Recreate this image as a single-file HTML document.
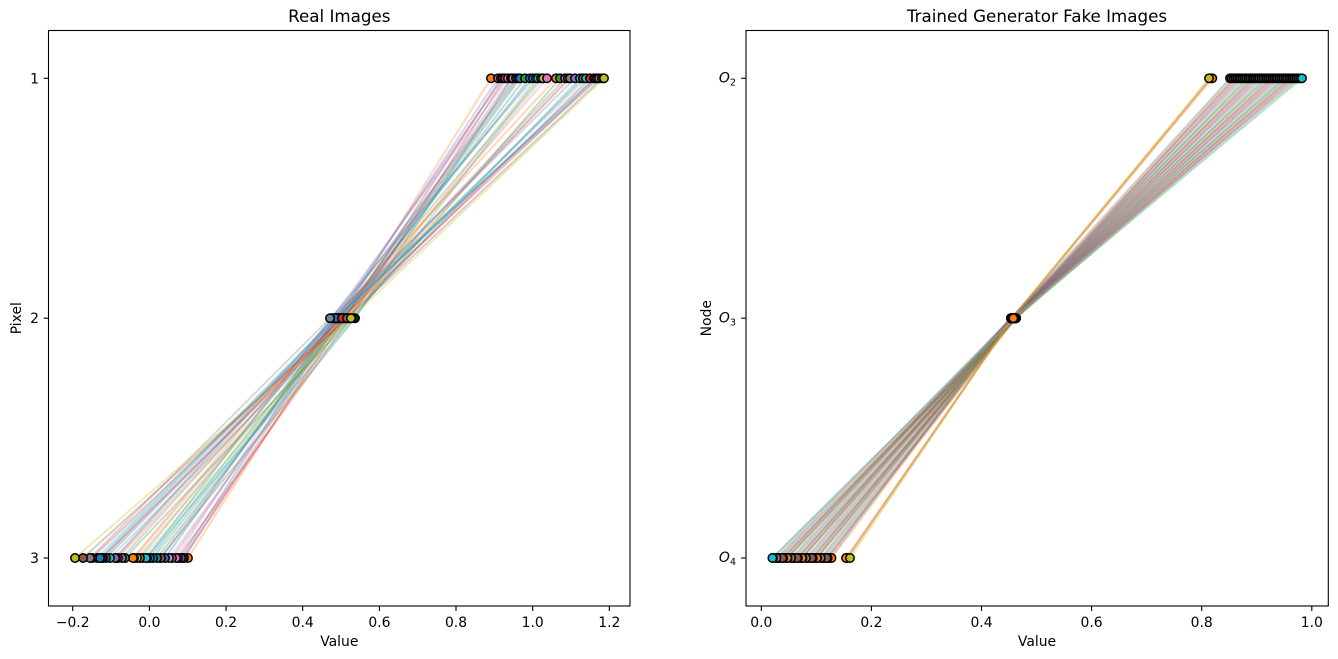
<!DOCTYPE html>
<html>
<head>
<meta charset="utf-8">
<style>
html,body{margin:0;padding:0;background:#fff;}
svg{display:block;}
text{font-family:"DejaVu Sans","Liberation Sans",sans-serif;fill:#000;}
.tl{font-size:13.9px;}
.ttl{font-size:16.7px;}
.ln{fill:none;stroke-width:2;stroke-opacity:0.3;stroke-linejoin:round;}
.mk circle{stroke:#000;stroke-width:1.5;}
</style>
</head>
<body>
<svg width="1338" height="659" viewBox="0 0 1338 659" xmlns="http://www.w3.org/2000/svg">
<rect width="1338" height="659" fill="#fff"/>

<!-- ================= LEFT PANEL ================= -->
<g id="leftlines">
<polyline class="ln" stroke="#ff7f0e" points="491,78.3 341,318.2 188,558"/>
<polyline class="ln" stroke="#9467bd" points="498,78.3 338,318.2 184,558"/>
<polyline class="ln" stroke="#d62728" points="501,78.3 345,318.2 183,558"/>
<polyline class="ln" stroke="#1f77b4" points="503,78.3 335,318.2 181,558"/>
<polyline class="ln" stroke="#d62728" points="505,78.3 350,318.2 178,558"/>
<polyline class="ln" stroke="#e377c2" points="508,78.3 332,318.2 176,558"/>
<polyline class="ln" stroke="#7f7f7f" points="511,78.3 342,318.2 172,558"/>
<polyline class="ln" stroke="#2ca02c" points="512,78.3 355,318.2 160,558"/>
<polyline class="ln" stroke="#e377c2" points="513,78.3 347,318.2 169,558"/>
<polyline class="ln" stroke="#1f77b4" points="516,78.3 336,318.2 165,558"/>
<polyline class="ln" stroke="#8c564b" points="518,78.3 340,318.2 161,558"/>
<polyline class="ln" stroke="#1f77b4" points="520,78.3 344,318.2 157,558"/>
<polyline class="ln" stroke="#2ca02c" points="525,78.3 343,318.2 153,558"/>
<polyline class="ln" stroke="#1f77b4" points="530,78.3 339,318.2 150,558"/>
<polyline class="ln" stroke="#1f77b4" points="533,78.3 331,318.2 147,558"/>
<polyline class="ln" stroke="#bcbd22" points="536,78.3 348,318.2 143,558"/>
<polyline class="ln" stroke="#17becf" points="538,78.3 354,318.2 146,558"/>
<polyline class="ln" stroke="#7f7f7f" points="541,78.3 337,318.2 140,558"/>
<polyline class="ln" stroke="#bcbd22" points="543,78.3 345,318.2 137,558"/>
<polyline class="ln" stroke="#e377c2" points="547,78.3 339,318.2 134,558"/>
<polyline class="ln" stroke="#ff7f0e" points="556,78.3 334,318.2 133,558"/>
<polyline class="ln" stroke="#2ca02c" points="560,78.3 352,318.2 125,558"/>
<polyline class="ln" stroke="#9467bd" points="565,78.3 340,318.2 122,558"/>
<polyline class="ln" stroke="#ff7f0e" points="568,78.3 343,318.2 118,558"/>
<polyline class="ln" stroke="#7f7f7f" points="570,78.3 337,318.2 116,558"/>
<polyline class="ln" stroke="#9467bd" points="575,78.3 333,318.2 115,558"/>
<polyline class="ln" stroke="#17becf" points="580,78.3 349,318.2 110,558"/>
<polyline class="ln" stroke="#8c564b" points="583,78.3 341,318.2 106,558"/>
<polyline class="ln" stroke="#17becf" points="586,78.3 338,318.2 103,558"/>
<polyline class="ln" stroke="#d62728" points="590,78.3 346,318.2 102,558"/>
<polyline class="ln" stroke="#17becf" points="594,78.3 335,318.2 97,558"/>
<polyline class="ln" stroke="#1f77b4" points="595,78.3 336,318.2 100,558"/>
<polyline class="ln" stroke="#d62728" points="597,78.3 342,318.2 92,558"/>
<polyline class="ln" stroke="#7f7f7f" points="599,78.3 330,318.2 90,558"/>
<polyline class="ln" stroke="#8c564b" points="602,78.3 347,318.2 83,558"/>
<polyline class="ln" stroke="#bcbd22" points="604,78.3 351,318.2 75,558"/>
</g>

<g class="mk" id="leftmarks">
<circle cx="491" cy="78.3" r="4.2" fill="#ff7f0e"/><circle cx="341" cy="318.2" r="4.2" fill="#ff7f0e"/><circle cx="188" cy="558" r="4.2" fill="#ff7f0e"/>
<circle cx="498" cy="78.3" r="4.2" fill="#9467bd"/><circle cx="338" cy="318.2" r="4.2" fill="#9467bd"/><circle cx="184" cy="558" r="4.2" fill="#9467bd"/>
<circle cx="501" cy="78.3" r="4.2" fill="#d62728"/><circle cx="345" cy="318.2" r="4.2" fill="#d62728"/><circle cx="183" cy="558" r="4.2" fill="#d62728"/>
<circle cx="503" cy="78.3" r="4.2" fill="#1f77b4"/><circle cx="335" cy="318.2" r="4.2" fill="#1f77b4"/><circle cx="181" cy="558" r="4.2" fill="#1f77b4"/>
<circle cx="505" cy="78.3" r="4.2" fill="#d62728"/><circle cx="350" cy="318.2" r="4.2" fill="#d62728"/><circle cx="178" cy="558" r="4.2" fill="#d62728"/>
<circle cx="508" cy="78.3" r="4.2" fill="#e377c2"/><circle cx="332" cy="318.2" r="4.2" fill="#e377c2"/><circle cx="176" cy="558" r="4.2" fill="#e377c2"/>
<circle cx="511" cy="78.3" r="4.2" fill="#7f7f7f"/><circle cx="342" cy="318.2" r="4.2" fill="#7f7f7f"/><circle cx="172" cy="558" r="4.2" fill="#7f7f7f"/>
<circle cx="512" cy="78.3" r="4.2" fill="#2ca02c"/><circle cx="355" cy="318.2" r="4.2" fill="#2ca02c"/><circle cx="160" cy="558" r="4.2" fill="#2ca02c"/>
<circle cx="513" cy="78.3" r="4.2" fill="#e377c2"/><circle cx="347" cy="318.2" r="4.2" fill="#e377c2"/><circle cx="169" cy="558" r="4.2" fill="#e377c2"/>
<circle cx="516" cy="78.3" r="4.2" fill="#1f77b4"/><circle cx="336" cy="318.2" r="4.2" fill="#1f77b4"/><circle cx="165" cy="558" r="4.2" fill="#1f77b4"/>
<circle cx="518" cy="78.3" r="4.2" fill="#8c564b"/><circle cx="340" cy="318.2" r="4.2" fill="#8c564b"/><circle cx="161" cy="558" r="4.2" fill="#8c564b"/>
<circle cx="520" cy="78.3" r="4.2" fill="#1f77b4"/><circle cx="344" cy="318.2" r="4.2" fill="#1f77b4"/><circle cx="157" cy="558" r="4.2" fill="#1f77b4"/>
<circle cx="525" cy="78.3" r="4.2" fill="#2ca02c"/><circle cx="343" cy="318.2" r="4.2" fill="#2ca02c"/><circle cx="153" cy="558" r="4.2" fill="#2ca02c"/>
<circle cx="530" cy="78.3" r="4.2" fill="#1f77b4"/><circle cx="339" cy="318.2" r="4.2" fill="#1f77b4"/><circle cx="150" cy="558" r="4.2" fill="#1f77b4"/>
<circle cx="533" cy="78.3" r="4.2" fill="#1f77b4"/><circle cx="331" cy="318.2" r="4.2" fill="#1f77b4"/><circle cx="147" cy="558" r="4.2" fill="#1f77b4"/>
<circle cx="536" cy="78.3" r="4.2" fill="#bcbd22"/><circle cx="348" cy="318.2" r="4.2" fill="#bcbd22"/><circle cx="143" cy="558" r="4.2" fill="#bcbd22"/>
<circle cx="538" cy="78.3" r="4.2" fill="#17becf"/><circle cx="354" cy="318.2" r="4.2" fill="#17becf"/><circle cx="146" cy="558" r="4.2" fill="#17becf"/>
<circle cx="541" cy="78.3" r="4.2" fill="#7f7f7f"/><circle cx="337" cy="318.2" r="4.2" fill="#7f7f7f"/><circle cx="140" cy="558" r="4.2" fill="#7f7f7f"/>
<circle cx="543" cy="78.3" r="4.2" fill="#bcbd22"/><circle cx="345" cy="318.2" r="4.2" fill="#bcbd22"/><circle cx="137" cy="558" r="4.2" fill="#bcbd22"/>
<circle cx="547" cy="78.3" r="4.2" fill="#e377c2"/><circle cx="339" cy="318.2" r="4.2" fill="#e377c2"/><circle cx="134" cy="558" r="4.2" fill="#e377c2"/>
<circle cx="556" cy="78.3" r="4.2" fill="#ff7f0e"/><circle cx="334" cy="318.2" r="4.2" fill="#ff7f0e"/><circle cx="133" cy="558" r="4.2" fill="#ff7f0e"/>
<circle cx="560" cy="78.3" r="4.2" fill="#2ca02c"/><circle cx="352" cy="318.2" r="4.2" fill="#2ca02c"/><circle cx="125" cy="558" r="4.2" fill="#2ca02c"/>
<circle cx="565" cy="78.3" r="4.2" fill="#9467bd"/><circle cx="340" cy="318.2" r="4.2" fill="#9467bd"/><circle cx="122" cy="558" r="4.2" fill="#9467bd"/>
<circle cx="568" cy="78.3" r="4.2" fill="#ff7f0e"/><circle cx="343" cy="318.2" r="4.2" fill="#ff7f0e"/><circle cx="118" cy="558" r="4.2" fill="#ff7f0e"/>
<circle cx="570" cy="78.3" r="4.2" fill="#7f7f7f"/><circle cx="337" cy="318.2" r="4.2" fill="#7f7f7f"/><circle cx="116" cy="558" r="4.2" fill="#7f7f7f"/>
<circle cx="575" cy="78.3" r="4.2" fill="#9467bd"/><circle cx="333" cy="318.2" r="4.2" fill="#9467bd"/><circle cx="115" cy="558" r="4.2" fill="#9467bd"/>
<circle cx="580" cy="78.3" r="4.2" fill="#17becf"/><circle cx="349" cy="318.2" r="4.2" fill="#17becf"/><circle cx="110" cy="558" r="4.2" fill="#17becf"/>
<circle cx="583" cy="78.3" r="4.2" fill="#8c564b"/><circle cx="341" cy="318.2" r="4.2" fill="#8c564b"/><circle cx="106" cy="558" r="4.2" fill="#8c564b"/>
<circle cx="586" cy="78.3" r="4.2" fill="#17becf"/><circle cx="338" cy="318.2" r="4.2" fill="#17becf"/><circle cx="103" cy="558" r="4.2" fill="#17becf"/>
<circle cx="590" cy="78.3" r="4.2" fill="#d62728"/><circle cx="346" cy="318.2" r="4.2" fill="#d62728"/><circle cx="102" cy="558" r="4.2" fill="#d62728"/>
<circle cx="594" cy="78.3" r="4.2" fill="#17becf"/><circle cx="335" cy="318.2" r="4.2" fill="#17becf"/><circle cx="97" cy="558" r="4.2" fill="#17becf"/>
<circle cx="595" cy="78.3" r="4.2" fill="#1f77b4"/><circle cx="336" cy="318.2" r="4.2" fill="#1f77b4"/><circle cx="100" cy="558" r="4.2" fill="#1f77b4"/>
<circle cx="597" cy="78.3" r="4.2" fill="#d62728"/><circle cx="342" cy="318.2" r="4.2" fill="#d62728"/><circle cx="92" cy="558" r="4.2" fill="#d62728"/>
<circle cx="599" cy="78.3" r="4.2" fill="#7f7f7f"/><circle cx="330" cy="318.2" r="4.2" fill="#7f7f7f"/><circle cx="90" cy="558" r="4.2" fill="#7f7f7f"/>
<circle cx="602" cy="78.3" r="4.2" fill="#8c564b"/><circle cx="347" cy="318.2" r="4.2" fill="#8c564b"/><circle cx="83" cy="558" r="4.2" fill="#8c564b"/>
<circle cx="604" cy="78.3" r="4.2" fill="#bcbd22"/><circle cx="351" cy="318.2" r="4.2" fill="#bcbd22"/><circle cx="75" cy="558" r="4.2" fill="#bcbd22"/>
</g>

<!-- left axes frame -->
<rect x="48.5" y="30.5" width="581.5" height="575.5" fill="none" stroke="#000" stroke-width="1.1"/>
<g stroke="#000" stroke-width="1.1">
<line x1="72.7" y1="606" x2="72.7" y2="611"/>
<line x1="149.4" y1="606" x2="149.4" y2="611"/>
<line x1="226.1" y1="606" x2="226.1" y2="611"/>
<line x1="302.7" y1="606" x2="302.7" y2="611"/>
<line x1="379.4" y1="606" x2="379.4" y2="611"/>
<line x1="456.0" y1="606" x2="456.0" y2="611"/>
<line x1="532.7" y1="606" x2="532.7" y2="611"/>
<line x1="609.3" y1="606" x2="609.3" y2="611"/>
<line x1="43.6" y1="78.3" x2="48.5" y2="78.3"/>
<line x1="43.6" y1="318.2" x2="48.5" y2="318.2"/>
<line x1="43.6" y1="558" x2="48.5" y2="558"/>
</g>
<g class="tl" text-anchor="middle">
<text x="72.7" y="627">−0.2</text>
<text x="149.4" y="627">0.0</text>
<text x="226.1" y="627">0.2</text>
<text x="302.7" y="627">0.4</text>
<text x="379.4" y="627">0.6</text>
<text x="456.0" y="627">0.8</text>
<text x="532.7" y="627">1.0</text>
<text x="609.3" y="627">1.2</text>
</g>
<g class="tl" text-anchor="end">
<text x="39" y="83.3">1</text>
<text x="39" y="323.2">2</text>
<text x="39" y="563">3</text>
</g>
<text class="tl" x="339.3" y="646" text-anchor="middle">Value</text>
<text class="tl" transform="translate(21,318.2) rotate(-90)" text-anchor="middle">Pixel</text>
<text class="ttl" x="339.3" y="22" text-anchor="middle">Real Images</text>

<!-- ================= RIGHT PANEL ================= -->
<g id="rightlines">
<polyline class="ln" stroke="#1f77b4" points="1230,78.3 1011,318.2 830,558"/>
<polyline class="ln" stroke="#ff7f0e" points="1231.8,78.3 1013,318.2 831.5,558"/>
<polyline class="ln" stroke="#2ca02c" points="1233.7,78.3 1015,318.2 824,558"/>
<polyline class="ln" stroke="#d62728" points="1235.5,78.3 1012,318.2 827.6,558"/>
<polyline class="ln" stroke="#9467bd" points="1237.4,78.3 1014,318.2 822.1,558"/>
<polyline class="ln" stroke="#8c564b" points="1239.2,78.3 1016,318.2 826.6,558"/>
<polyline class="ln" stroke="#e377c2" points="1241.1,78.3 1013,318.2 817.1,558"/>
<polyline class="ln" stroke="#7f7f7f" points="1242.9,78.3 1011,318.2 820.7,558"/>
<polyline class="ln" stroke="#bcbd22" points="1244.8,78.3 1015,318.2 817.2,558"/>
<polyline class="ln" stroke="#17becf" points="1246.6,78.3 1014,318.2 816.7,558"/>
<polyline class="ln" stroke="#1f77b4" points="1248.5,78.3 1011,318.2 815.2,558"/>
<polyline class="ln" stroke="#ff7f0e" points="1250.3,78.3 1013,318.2 816.8,558"/>
<polyline class="ln" stroke="#2ca02c" points="1252.2,78.3 1015,318.2 809.3,558"/>
<polyline class="ln" stroke="#d62728" points="1254.0,78.3 1012,318.2 812.8,558"/>
<polyline class="ln" stroke="#9467bd" points="1255.8,78.3 1014,318.2 807.3,558"/>
<polyline class="ln" stroke="#8c564b" points="1257.7,78.3 1016,318.2 811.8,558"/>
<polyline class="ln" stroke="#e377c2" points="1259.5,78.3 1013,318.2 802.4,558"/>
<polyline class="ln" stroke="#7f7f7f" points="1261.4,78.3 1011,318.2 805.9,558"/>
<polyline class="ln" stroke="#bcbd22" points="1263.2,78.3 1015,318.2 802.4,558"/>
<polyline class="ln" stroke="#17becf" points="1265.1,78.3 1014,318.2 801.9,558"/>
<polyline class="ln" stroke="#1f77b4" points="1266.9,78.3 1011,318.2 800.5,558"/>
<polyline class="ln" stroke="#ff7f0e" points="1268.8,78.3 1013,318.2 802,558"/>
<polyline class="ln" stroke="#2ca02c" points="1270.6,78.3 1015,318.2 794.5,558"/>
<polyline class="ln" stroke="#d62728" points="1272.5,78.3 1012,318.2 798,558"/>
<polyline class="ln" stroke="#9467bd" points="1274.3,78.3 1014,318.2 792.6,558"/>
<polyline class="ln" stroke="#8c564b" points="1276.2,78.3 1016,318.2 797.1,558"/>
<polyline class="ln" stroke="#e377c2" points="1278.0,78.3 1013,318.2 787.6,558"/>
<polyline class="ln" stroke="#7f7f7f" points="1279.8,78.3 1011,318.2 791.1,558"/>
<polyline class="ln" stroke="#bcbd22" points="1281.7,78.3 1015,318.2 787.6,558"/>
<polyline class="ln" stroke="#17becf" points="1283.5,78.3 1014,318.2 787.2,558"/>
<polyline class="ln" stroke="#1f77b4" points="1285.4,78.3 1011,318.2 785.7,558"/>
<polyline class="ln" stroke="#ff7f0e" points="1287.2,78.3 1013,318.2 787.2,558"/>
<polyline class="ln" stroke="#2ca02c" points="1289.1,78.3 1015,318.2 779.7,558"/>
<polyline class="ln" stroke="#d62728" points="1290.9,78.3 1012,318.2 783.3,558"/>
<polyline class="ln" stroke="#9467bd" points="1292.8,78.3 1014,318.2 777.8,558"/>
<polyline class="ln" stroke="#8c564b" points="1294.6,78.3 1016,318.2 782.3,558"/>
<polyline class="ln" stroke="#e377c2" points="1296.5,78.3 1013,318.2 772.8,558"/>
<polyline class="ln" stroke="#7f7f7f" points="1298.3,78.3 1011,318.2 776.4,558"/>
<polyline class="ln" stroke="#bcbd22" points="1300.2,78.3 1015,318.2 772.9,558"/>
<polyline class="ln" stroke="#17becf" points="1302.0,78.3 1014,318.2 772.4,558"/>
<polyline class="ln" stroke="#8c564b" points="1211,78.3 1012,318.2 847,558"/>
<polyline class="ln" stroke="#ff7f0e" points="1212.3,78.3 1013,318.2 846,558"/>
<polyline class="ln" stroke="#ff7f0e" points="1210.5,78.3 1012.5,318.2 848,558"/>
<polyline class="ln" stroke="#bcbd22" points="1209,78.3 1012,318.2 850,558"/>
</g>

<g class="mk" id="rightmarks">
<circle cx="1230" cy="78.3" r="4.2" fill="#1f77b4"/><circle cx="1011" cy="318.2" r="4.2" fill="#1f77b4"/><circle cx="830" cy="558" r="4.2" fill="#1f77b4"/>
<circle cx="1231.8" cy="78.3" r="4.2" fill="#ff7f0e"/><circle cx="1013" cy="318.2" r="4.2" fill="#ff7f0e"/><circle cx="831.5" cy="558" r="4.2" fill="#ff7f0e"/>
<circle cx="1233.7" cy="78.3" r="4.2" fill="#2ca02c"/><circle cx="1015" cy="318.2" r="4.2" fill="#2ca02c"/><circle cx="824" cy="558" r="4.2" fill="#2ca02c"/>
<circle cx="1235.5" cy="78.3" r="4.2" fill="#d62728"/><circle cx="1012" cy="318.2" r="4.2" fill="#d62728"/><circle cx="827.6" cy="558" r="4.2" fill="#d62728"/>
<circle cx="1237.4" cy="78.3" r="4.2" fill="#9467bd"/><circle cx="1014" cy="318.2" r="4.2" fill="#9467bd"/><circle cx="822.1" cy="558" r="4.2" fill="#9467bd"/>
<circle cx="1239.2" cy="78.3" r="4.2" fill="#8c564b"/><circle cx="1016" cy="318.2" r="4.2" fill="#8c564b"/><circle cx="826.6" cy="558" r="4.2" fill="#8c564b"/>
<circle cx="1241.1" cy="78.3" r="4.2" fill="#e377c2"/><circle cx="1013" cy="318.2" r="4.2" fill="#e377c2"/><circle cx="817.1" cy="558" r="4.2" fill="#e377c2"/>
<circle cx="1242.9" cy="78.3" r="4.2" fill="#7f7f7f"/><circle cx="1011" cy="318.2" r="4.2" fill="#7f7f7f"/><circle cx="820.7" cy="558" r="4.2" fill="#7f7f7f"/>
<circle cx="1244.8" cy="78.3" r="4.2" fill="#bcbd22"/><circle cx="1015" cy="318.2" r="4.2" fill="#bcbd22"/><circle cx="817.2" cy="558" r="4.2" fill="#bcbd22"/>
<circle cx="1246.6" cy="78.3" r="4.2" fill="#17becf"/><circle cx="1014" cy="318.2" r="4.2" fill="#17becf"/><circle cx="816.7" cy="558" r="4.2" fill="#17becf"/>
<circle cx="1248.5" cy="78.3" r="4.2" fill="#1f77b4"/><circle cx="1011" cy="318.2" r="4.2" fill="#1f77b4"/><circle cx="815.2" cy="558" r="4.2" fill="#1f77b4"/>
<circle cx="1250.3" cy="78.3" r="4.2" fill="#ff7f0e"/><circle cx="1013" cy="318.2" r="4.2" fill="#ff7f0e"/><circle cx="816.8" cy="558" r="4.2" fill="#ff7f0e"/>
<circle cx="1252.2" cy="78.3" r="4.2" fill="#2ca02c"/><circle cx="1015" cy="318.2" r="4.2" fill="#2ca02c"/><circle cx="809.3" cy="558" r="4.2" fill="#2ca02c"/>
<circle cx="1254.0" cy="78.3" r="4.2" fill="#d62728"/><circle cx="1012" cy="318.2" r="4.2" fill="#d62728"/><circle cx="812.8" cy="558" r="4.2" fill="#d62728"/>
<circle cx="1255.8" cy="78.3" r="4.2" fill="#9467bd"/><circle cx="1014" cy="318.2" r="4.2" fill="#9467bd"/><circle cx="807.3" cy="558" r="4.2" fill="#9467bd"/>
<circle cx="1257.7" cy="78.3" r="4.2" fill="#8c564b"/><circle cx="1016" cy="318.2" r="4.2" fill="#8c564b"/><circle cx="811.8" cy="558" r="4.2" fill="#8c564b"/>
<circle cx="1259.5" cy="78.3" r="4.2" fill="#e377c2"/><circle cx="1013" cy="318.2" r="4.2" fill="#e377c2"/><circle cx="802.4" cy="558" r="4.2" fill="#e377c2"/>
<circle cx="1261.4" cy="78.3" r="4.2" fill="#7f7f7f"/><circle cx="1011" cy="318.2" r="4.2" fill="#7f7f7f"/><circle cx="805.9" cy="558" r="4.2" fill="#7f7f7f"/>
<circle cx="1263.2" cy="78.3" r="4.2" fill="#bcbd22"/><circle cx="1015" cy="318.2" r="4.2" fill="#bcbd22"/><circle cx="802.4" cy="558" r="4.2" fill="#bcbd22"/>
<circle cx="1265.1" cy="78.3" r="4.2" fill="#17becf"/><circle cx="1014" cy="318.2" r="4.2" fill="#17becf"/><circle cx="801.9" cy="558" r="4.2" fill="#17becf"/>
<circle cx="1266.9" cy="78.3" r="4.2" fill="#1f77b4"/><circle cx="1011" cy="318.2" r="4.2" fill="#1f77b4"/><circle cx="800.5" cy="558" r="4.2" fill="#1f77b4"/>
<circle cx="1268.8" cy="78.3" r="4.2" fill="#ff7f0e"/><circle cx="1013" cy="318.2" r="4.2" fill="#ff7f0e"/><circle cx="802" cy="558" r="4.2" fill="#ff7f0e"/>
<circle cx="1270.6" cy="78.3" r="4.2" fill="#2ca02c"/><circle cx="1015" cy="318.2" r="4.2" fill="#2ca02c"/><circle cx="794.5" cy="558" r="4.2" fill="#2ca02c"/>
<circle cx="1272.5" cy="78.3" r="4.2" fill="#d62728"/><circle cx="1012" cy="318.2" r="4.2" fill="#d62728"/><circle cx="798" cy="558" r="4.2" fill="#d62728"/>
<circle cx="1274.3" cy="78.3" r="4.2" fill="#9467bd"/><circle cx="1014" cy="318.2" r="4.2" fill="#9467bd"/><circle cx="792.6" cy="558" r="4.2" fill="#9467bd"/>
<circle cx="1276.2" cy="78.3" r="4.2" fill="#8c564b"/><circle cx="1016" cy="318.2" r="4.2" fill="#8c564b"/><circle cx="797.1" cy="558" r="4.2" fill="#8c564b"/>
<circle cx="1278.0" cy="78.3" r="4.2" fill="#e377c2"/><circle cx="1013" cy="318.2" r="4.2" fill="#e377c2"/><circle cx="787.6" cy="558" r="4.2" fill="#e377c2"/>
<circle cx="1279.8" cy="78.3" r="4.2" fill="#7f7f7f"/><circle cx="1011" cy="318.2" r="4.2" fill="#7f7f7f"/><circle cx="791.1" cy="558" r="4.2" fill="#7f7f7f"/>
<circle cx="1281.7" cy="78.3" r="4.2" fill="#bcbd22"/><circle cx="1015" cy="318.2" r="4.2" fill="#bcbd22"/><circle cx="787.6" cy="558" r="4.2" fill="#bcbd22"/>
<circle cx="1283.5" cy="78.3" r="4.2" fill="#17becf"/><circle cx="1014" cy="318.2" r="4.2" fill="#17becf"/><circle cx="787.2" cy="558" r="4.2" fill="#17becf"/>
<circle cx="1285.4" cy="78.3" r="4.2" fill="#1f77b4"/><circle cx="1011" cy="318.2" r="4.2" fill="#1f77b4"/><circle cx="785.7" cy="558" r="4.2" fill="#1f77b4"/>
<circle cx="1287.2" cy="78.3" r="4.2" fill="#ff7f0e"/><circle cx="1013" cy="318.2" r="4.2" fill="#ff7f0e"/><circle cx="787.2" cy="558" r="4.2" fill="#ff7f0e"/>
<circle cx="1289.1" cy="78.3" r="4.2" fill="#2ca02c"/><circle cx="1015" cy="318.2" r="4.2" fill="#2ca02c"/><circle cx="779.7" cy="558" r="4.2" fill="#2ca02c"/>
<circle cx="1290.9" cy="78.3" r="4.2" fill="#d62728"/><circle cx="1012" cy="318.2" r="4.2" fill="#d62728"/><circle cx="783.3" cy="558" r="4.2" fill="#d62728"/>
<circle cx="1292.8" cy="78.3" r="4.2" fill="#9467bd"/><circle cx="1014" cy="318.2" r="4.2" fill="#9467bd"/><circle cx="777.8" cy="558" r="4.2" fill="#9467bd"/>
<circle cx="1294.6" cy="78.3" r="4.2" fill="#8c564b"/><circle cx="1016" cy="318.2" r="4.2" fill="#8c564b"/><circle cx="782.3" cy="558" r="4.2" fill="#8c564b"/>
<circle cx="1296.5" cy="78.3" r="4.2" fill="#e377c2"/><circle cx="1013" cy="318.2" r="4.2" fill="#e377c2"/><circle cx="772.8" cy="558" r="4.2" fill="#e377c2"/>
<circle cx="1298.3" cy="78.3" r="4.2" fill="#7f7f7f"/><circle cx="1011" cy="318.2" r="4.2" fill="#7f7f7f"/><circle cx="776.4" cy="558" r="4.2" fill="#7f7f7f"/>
<circle cx="1300.2" cy="78.3" r="4.2" fill="#bcbd22"/><circle cx="1015" cy="318.2" r="4.2" fill="#bcbd22"/><circle cx="772.9" cy="558" r="4.2" fill="#bcbd22"/>
<circle cx="1302.0" cy="78.3" r="4.2" fill="#17becf"/><circle cx="1014" cy="318.2" r="4.2" fill="#17becf"/><circle cx="772.4" cy="558" r="4.2" fill="#17becf"/>
<circle cx="1211" cy="78.3" r="4.2" fill="#8c564b"/><circle cx="1012" cy="318.2" r="4.2" fill="#8c564b"/><circle cx="847" cy="558" r="4.2" fill="#8c564b"/>
<circle cx="1212.3" cy="78.3" r="4.2" fill="#ff7f0e"/><circle cx="1013" cy="318.2" r="4.2" fill="#ff7f0e"/><circle cx="846" cy="558" r="4.2" fill="#ff7f0e"/>
<circle cx="1209" cy="78.3" r="4.2" fill="#bcbd22"/><circle cx="1013.3" cy="318.2" r="4.2" fill="#ff7f0e"/><circle cx="850" cy="558" r="4.2" fill="#bcbd22"/>
</g>

<!-- right axes frame -->
<rect x="746" y="30.5" width="582.3" height="575.5" fill="none" stroke="#000" stroke-width="1.1"/>
<g stroke="#000" stroke-width="1.1">
<line x1="761.3" y1="606" x2="761.3" y2="611"/>
<line x1="871.4" y1="606" x2="871.4" y2="611"/>
<line x1="981.5" y1="606" x2="981.5" y2="611"/>
<line x1="1091.6" y1="606" x2="1091.6" y2="611"/>
<line x1="1201.7" y1="606" x2="1201.7" y2="611"/>
<line x1="1311.8" y1="606" x2="1311.8" y2="611"/>
<line x1="741.1" y1="78.3" x2="746" y2="78.3"/>
<line x1="741.1" y1="318.2" x2="746" y2="318.2"/>
<line x1="741.1" y1="558" x2="746" y2="558"/>
</g>
<g class="tl" text-anchor="middle">
<text x="761.3" y="627">0.0</text>
<text x="871.4" y="627">0.2</text>
<text x="981.5" y="627">0.4</text>
<text x="1091.6" y="627">0.6</text>
<text x="1201.7" y="627">0.8</text>
<text x="1311.8" y="627">1.0</text>
</g>
<g class="tl" text-anchor="end">
<text x="736" y="82.5"><tspan font-style="italic">O</tspan><tspan font-size="9.7" dy="3">2</tspan></text>
<text x="736" y="322.4"><tspan font-style="italic">O</tspan><tspan font-size="9.7" dy="3">3</tspan></text>
<text x="736" y="562.2"><tspan font-style="italic">O</tspan><tspan font-size="9.7" dy="3">4</tspan></text>
</g>
<text class="tl" x="1037" y="646" text-anchor="middle">Value</text>
<text class="tl" transform="translate(711,318.2) rotate(-90)" text-anchor="middle">Node</text>
<text class="ttl" x="1037" y="22" text-anchor="middle">Trained Generator Fake Images</text>
</svg>
</body>
</html>
